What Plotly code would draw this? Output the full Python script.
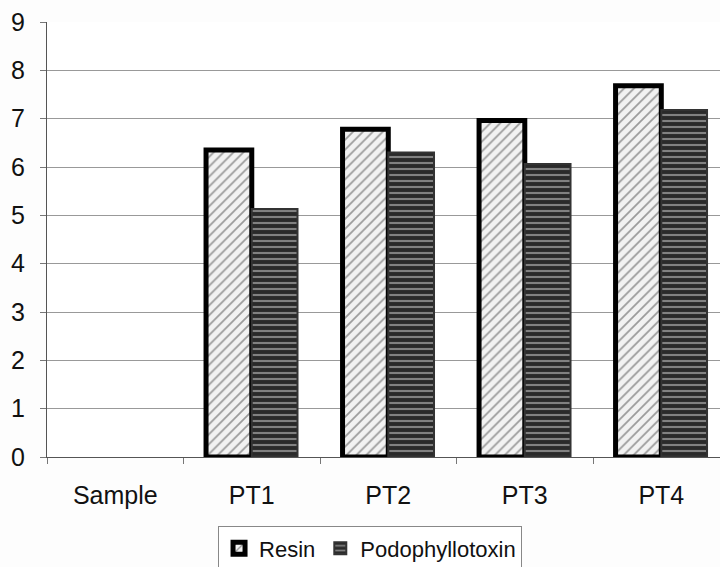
import plotly.graph_objects as go

categories = ["Sample", "PT1", "PT2", "PT3", "PT4"]
resin = [None, 6.35, 6.78, 6.96, 7.68]
podophyllotoxin = [None, 5.13, 6.30, 6.06, 7.18]
y_ticks = list(range(0, 10))

fig = go.Figure()
fig.add_trace(go.Bar(
    name="Resin", x=categories, y=resin,
    marker=dict(
        color="#f2f2f2",
        line=dict(color="#000000", width=5),
        pattern=dict(shape="/", fgcolor="#444444", bgcolor="#f2f2f2",
                     size=7, solidity=0.25),
    ),
))
fig.add_trace(go.Bar(
    name="Podophyllotoxin", x=categories, y=podophyllotoxin,
    marker=dict(
        color="#2a2a2a",
        line=dict(color="#333333", width=2),
        pattern=dict(shape="-", fgcolor="#d8d8d8", bgcolor="#2a2a2a",
                     size=6, solidity=0.35),
    ),
))

fig.update_layout(
    width=720, height=567,
    margin=dict(l=47, r=0, t=22, b=110, autoexpand=False),
    paper_bgcolor="#fdfdfd", plot_bgcolor="#ffffff",
    font=dict(family="Liberation Sans, Arial, sans-serif", color="#111111"),
    barmode="group", bargap=0.33, bargroupgap=0.0,
    showlegend=True,
    legend=dict(
        orientation="h", x=0.48, xanchor="center", y=-0.21, yanchor="middle",
        bordercolor="#888888", borderwidth=1, bgcolor="#ffffff",
        font=dict(size=22), itemwidth=30, tracegroupgap=0,
    ),
)
fig.update_xaxes(
    range=[-0.5, 4.43], tickson="boundaries", ticks="outside", ticklen=6,
    tickcolor="#777777", showline=True, linecolor="#555555", linewidth=1,
    tickfont=dict(size=25), ticklabelstandoff=16, showgrid=False,
)
fig.update_yaxes(
    range=[0, 9], tickvals=y_ticks, ticks="outside", ticklen=6,
    tickcolor="#777777", showline=True, linecolor="#555555", linewidth=1,
    showgrid=True, gridcolor="#999999", gridwidth=1, zeroline=False,
    tickfont=dict(size=25), ticklabelstandoff=10,
)

fig.write_html("out.html")
